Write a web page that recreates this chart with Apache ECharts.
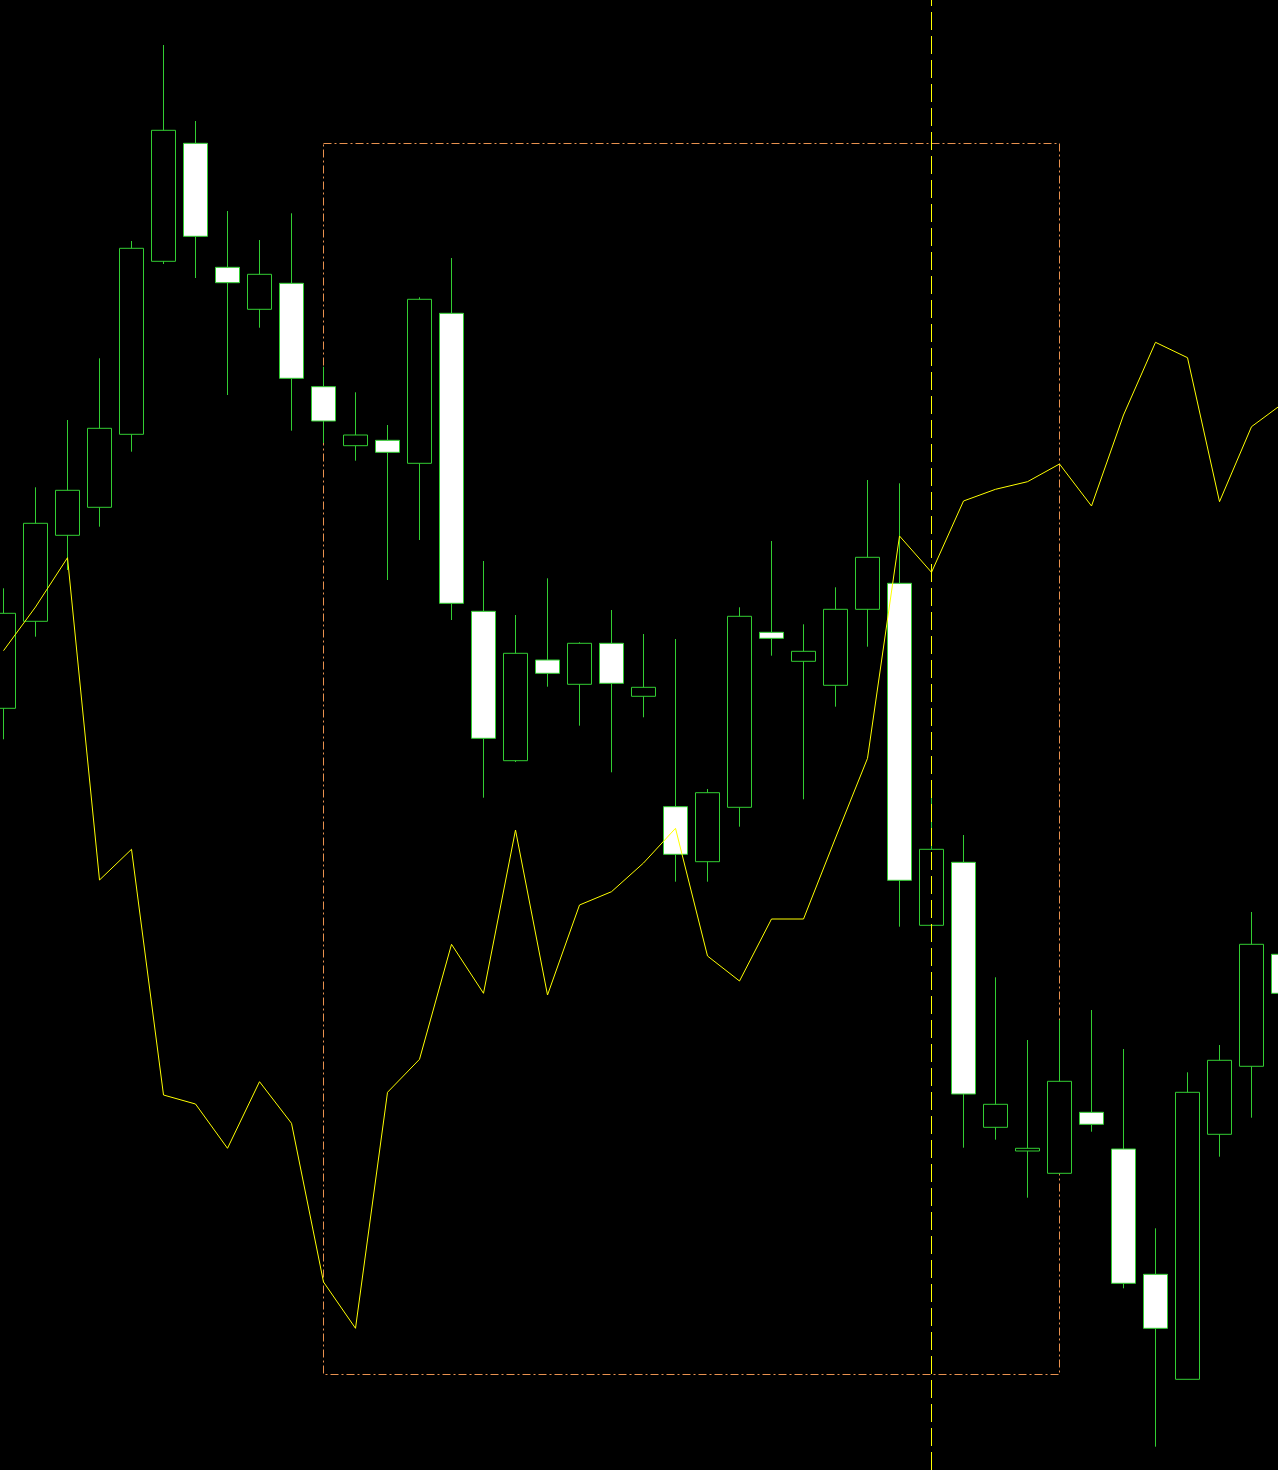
<!DOCTYPE html>
<html>
<head>
<meta charset="utf-8">
<style>
  html, body { margin: 0; padding: 0; background: #000; }
  #chart { width: 1278px; height: 1470px; }
</style>
<script src="https://cdn.jsdelivr.net/npm/echarts@6/dist/echarts.min.js"></script>
</head>
<body>
<div id="chart"></div>
<script>
// ---- data ----
const barIndex = [0,1,2,3,4,5,6,7,8,9,10,11,12,13,14,15,16,17,18,19,20,21,22,23,24,25,26,27,28,29,30,31,32,33,34,35,36,37,38,39,40];

const opens  = [76.17, 84.87, 93.47, 96.27, 103.57, 120.87, 132.67, 120.27, 116.07, 118.67, 108.33, 102.43, 102.97, 100.67, 115.67, 85.87, 70.93, 81.00, 78.57, 82.67, 77.37, 66.33, 60.83, 66.27, 83.77, 80.87, 78.47, 86.07, 88.67, 54.47, 60.77, 34.27, 31.90, 29.67, 35.77, 32.10, 19.57, 9.07, 33.57, 40.37, 51.57];
const closes = [85.67, 94.67, 97.97, 104.17, 122.17, 133.97, 123.37, 118.73, 119.57, 109.17, 104.90, 103.50, 101.77, 117.07, 86.67, 73.17, 81.67, 79.67, 82.67, 78.67, 78.27, 61.57, 67.73, 85.37, 83.17, 81.87, 86.07, 91.27, 58.97, 62.07, 37.60, 36.57, 32.17, 38.87, 34.57, 18.67, 14.17, 37.77, 40.97, 52.57, 47.67];
const lows   = [73.07, 83.33, 90.00, 94.33, 101.83, 120.60, 119.20, 107.50, 114.23, 103.93, 102.70, 100.93, 89.00, 93.00, 85.00, 67.23, 70.80, 78.33, 74.43, 69.77, 75.27, 58.83, 58.83, 64.33, 81.43, 67.07, 76.33, 82.33, 54.33, 53.80, 32.23, 33.03, 27.23, 29.67, 33.83, 18.17, 2.33, 9.07, 31.33, 35.23, 46.00];
const highs  = [88.17, 98.27, 105.00, 111.17, 122.90, 142.50, 134.90, 125.90, 123.00, 125.67, 110.33, 107.77, 104.50, 117.27, 121.20, 90.90, 85.50, 89.17, 82.77, 86.00, 83.60, 83.10, 68.10, 86.27, 92.90, 84.57, 88.27, 99.00, 98.67, 68.00, 63.50, 49.27, 43.00, 45.00, 46.00, 42.10, 24.17, 39.77, 42.50, 55.80, 53.50];

const signalLine = [81.93, 86.30, 91.23, 59.00, 62.07, 37.50, 36.60, 32.17, 38.83, 34.67, 18.80, 14.17, 37.77, 41.07, 52.57, 47.67, 64.00, 47.50, 56.50, 57.83, 60.70, 64.17, 51.40, 48.90, 55.10, 55.10, 63.20, 71.17, 93.40, 89.77, 96.90, 98.07, 98.83, 100.60, 96.40, 105.50, 112.77, 111.23, 96.83, 104.33, 106.70];

// visible bar window on the x axis, and price window on the y axis
const xWindowMin = -0.109375;
const xWindowMax = 39.828125;
const yWindowMin = 0;
const yWindowMax = 147;

// selection box (bar index range and price range) and cursor bar
const boxStartIndex = 10;
const boxEndIndex = 33;
const boxTop = 132.65;
const boxBottom = 9.55;
const cursorIndex = 29;

// ---- chart ----
const candleData = barIndex.map((x, i) => [x, opens[i], closes[i], lows[i], highs[i]]);
const lineData = barIndex.map((x, i) => [x, signalLine[i]]);
const cursorData = [[cursorIndex, yWindowMin], [cursorIndex, yWindowMax]];

const chart = echarts.init(document.getElementById('chart'), null, { renderer: 'canvas' });
chart.setOption({
  backgroundColor: '#000000',
  animation: false,
  grid: { left: 0, top: 0, right: 0, bottom: 0, containLabel: false },
  xAxis: {
    type: 'value',
    min: xWindowMin,
    max: xWindowMax,
    show: false,
    splitLine: { show: false }
  },
  yAxis: {
    type: 'value',
    min: yWindowMin,
    max: yWindowMax,
    show: false,
    splitLine: { show: false }
  },
  series: [
    {
      type: 'candlestick',
      data: candleData,
      encode: { x: 0, y: [1, 2, 3, 4] },
      barWidth: 24,
      clip: false,
      z: 2,
      itemStyle: {
        color: '#000000',
        color0: '#ffffff',
        borderColor: '#32cd32',
        borderColor0: '#32cd32',
        borderWidth: 1
      },
      emphasis: { disabled: true }
    },
    {
      type: 'line',
      data: lineData,
      clip: false,
      z: 3,
      showSymbol: false,
      symbol: 'none',
      lineStyle: { color: '#ffff00', width: 1 },
      emphasis: { disabled: true },
      markArea: {
        silent: true,
        itemStyle: {
          color: 'rgba(0,0,0,0)',
          borderColor: '#e8914f',
          borderWidth: 1,
          borderType: [8, 3, 2, 3]
        },
        label: { show: false },
        data: [[
          { xAxis: boxStartIndex, yAxis: boxTop },
          { xAxis: boxEndIndex, yAxis: boxBottom }
        ]]
      }
    },
    {
      type: 'line',
      data: cursorData,
      clip: false,
      z: 4,
      showSymbol: false,
      symbol: 'none',
      silent: true,
      lineStyle: { color: '#ffff00', width: 1, type: [18, 6] },
      emphasis: { disabled: true }
    }
  ]
});
</script>
</body>
</html>
